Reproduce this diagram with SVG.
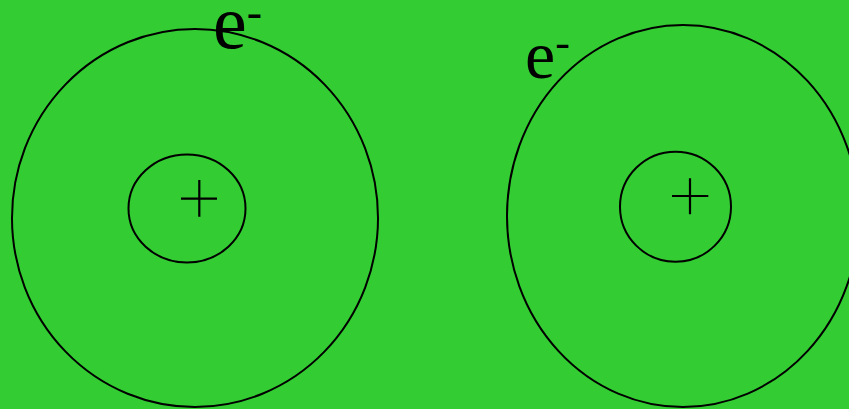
<svg xmlns="http://www.w3.org/2000/svg" width="849" height="409" viewBox="0 0 849 409">
  <style>
    .orbit { fill: none; stroke: #000; stroke-width: 2; }
    .plus { stroke: #000; stroke-width: 2.2; fill: none; }
    .lbl { font-family: "Liberation Serif", "Times New Roman", serif; fill: #000; }
  </style>
  <rect x="0" y="0" width="849" height="409" fill="#33CC33"/>
  <g id="atom-left">
    <ellipse class="orbit" cx="195" cy="218" rx="183" ry="189"/>
    <ellipse class="orbit" cx="187" cy="208.5" rx="58.5" ry="54"/>
    <path class="plus" d="M181 198.7 H217 M199.3 180 V216.7"/>
    <text class="lbl" x="213" y="48" font-size="76">e<tspan font-size="46" dy="-21">-</tspan></text>
  </g>
  <g id="atom-right">
    <ellipse class="orbit" cx="683" cy="216" rx="176" ry="191"/>
    <ellipse class="orbit" cx="675.5" cy="206.7" rx="55.5" ry="55"/>
    <path class="plus" d="M672 196 H708.3 M690 178.3 V214.3"/>
    <text class="lbl" x="525" y="78" font-size="68">e<tspan font-size="44" dy="-21">-</tspan></text>
  </g>
  <g id="connectors"/>
</svg>
